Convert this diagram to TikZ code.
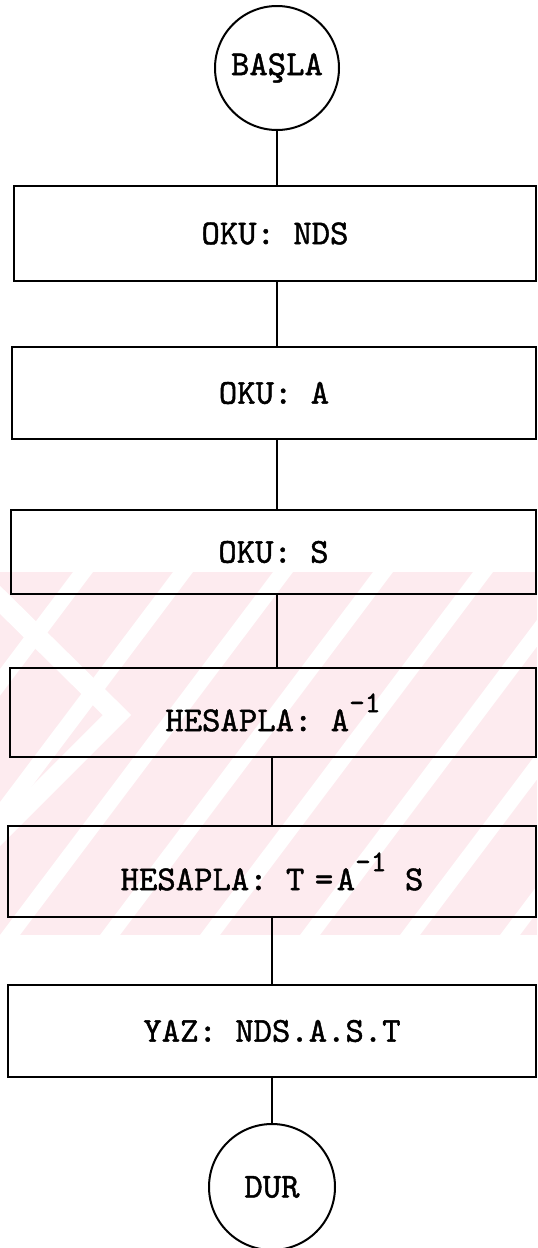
\documentclass[tikz,border=0pt]{standalone}
\usepackage{fontspec}
\newfontfamily\tw{lmmono10-regular.otf}[FakeBold=1.3]
\definecolor{wm}{RGB}{253,235,239}
\newcommand\invsup{\raisebox{9.5pt}{\fontsize{15}{15}\selectfont –1}}
\begin{document}
\begin{tikzpicture}[x=0.5pt,y=-0.5pt,
  lbl/.style={font=\tw\fontsize{17.5}{19}\selectfont},
  stepbox/.style={lbl, draw, line width=1pt, rectangle, inner sep=0pt},
  term/.style={lbl, draw, line width=1pt, circle, inner sep=0pt},
  link/.style={line width=1pt}]
\fill[white] (0,0) rectangle (537,1248);
\useasboundingbox (0,0) rectangle (537,1248);
% watermark
\fill[wm] (0,572) rectangle (537,935);
\begin{scope}
  \clip (0,572) rectangle (537,935);
  \foreach \k in {-4,...,6} {
    \fill[white] ({\k*100},935) -- ({\k*100+20},935) -- ({\k*100+293},572) -- ({\k*100+273},572) -- cycle;
  }
  \draw[white, line width=10pt] (-10,590) -- (117,715) -- (-10,842);
\end{scope}
% nodes
\node[term, minimum size=62pt] (start) at (277,68) {BAŞLA};
\node[stepbox, minimum width=261pt, minimum height=47.5pt] (b1) at (275,233.5) {OKU: NDS};
\node[stepbox, minimum width=262pt, minimum height=46pt] (b2) at (274,393) {OKU: A};
\node[stepbox, minimum width=262.5pt, minimum height=42pt] (b3) at (273.5,552) {OKU: S};
\node[stepbox, minimum width=263pt, minimum height=44.5pt] (b4) at (273,712.5) {HESAPLA: A\invsup};
\node[stepbox, minimum width=264pt, minimum height=45.5pt] (b5) at (272,871.5) {HESAPLA: T\kern.3em=\kern.1em A\invsup\ S};
\node[stepbox, minimum width=264pt, minimum height=46pt] (b6) at (272,1031) {YAZ: NDS.A.S.T};
\node[term, minimum size=63pt] (end) at (272,1187) {DUR};
% connectors
\draw[link] (start.south) -- (start.south |- b1.north);
\draw[link] (b1.south -| start) -- (b2.north -| start);
\draw[link] (b2.south -| start) -- (b3.north -| start);
\draw[link] (b3.south -| start) -- (b4.north -| start);
\draw[link] (b4.south -| end) -- (b5.north -| end);
\draw[link] (b5.south -| end) -- (b6.north -| end);
\draw[link] (b6.south -| end) -- (end.north);
\end{tikzpicture}
\end{document}
